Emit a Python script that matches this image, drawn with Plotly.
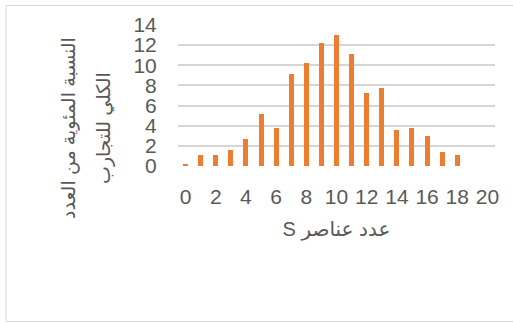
import plotly.graph_objects as go

# Number of elements in S and the percentage of all trials for each count
elements = list(range(19))
percent = [0.2, 1.1, 1.1, 1.6, 2.7, 5.2, 3.8, 9.1, 10.2, 12.2,
           13.0, 11.1, 7.2, 7.7, 3.6, 3.8, 3.0, 1.4, 1.1]

x_ticks = list(range(0, 21, 2))
y_ticks = list(range(0, 15, 2))

# Right-to-left embedding keeps the Latin "S" at the left end of the phrase
x_title = "\u202bعدد عناصر S\u202c"
y_title_lines = ["النسبة المئوية من العدد", "الكلي للتجارب"]

grey = "#595959"
font_family = "Liberation Sans, Arial, DejaVu Sans, sans-serif"

fig = go.Figure(
    go.Bar(
        x=elements,
        y=percent,
        width=0.33,
        marker=dict(color="#ED7D31", line=dict(width=0)),
    )
)

W, H = 513, 323
ml, mr, mt, mb = 178, 18, 25, 157

fig.update_layout(
    width=W,
    height=H,
    margin=dict(l=ml, r=mr, t=mt, b=mb),
    paper_bgcolor="white",
    plot_bgcolor="white",
    showlegend=False,
    font=dict(family=font_family, color=grey, size=21),
    bargap=0,
)

fig.update_xaxes(
    range=[-0.5, 20.5],
    tickvals=x_ticks,
    ticktext=[str(v) for v in x_ticks],
    showgrid=False,
    zeroline=False,
    showline=False,
    ticks="outside",
    ticklen=12,
    tickcolor="rgba(0,0,0,0)",
    tickfont=dict(size=21, color=grey),
    title=dict(text=x_title, font=dict(size=20, color=grey), standoff=14),
)

fig.update_yaxes(
    range=[0, 14],
    tickvals=y_ticks,
    showgrid=True,
    gridcolor="#d6d6d6",
    gridwidth=1.8,
    zeroline=False,
    showline=False,
    ticks="outside",
    ticklen=16,
    tickcolor="rgba(0,0,0,0)",
    tickfont=dict(size=21, color=grey),
)

pw = W - ml - mr
ph = H - mt - mb

# Two-line rotated axis title on the left
for line, px in zip(y_title_lines, [69, 104]):
    fig.add_annotation(
        text=line,
        xref="paper",
        yref="paper",
        x=(px - ml) / pw,
        y=(H - mb - 128) / ph,
        xanchor="center",
        yanchor="middle",
        textangle=-90,
        showarrow=False,
        font=dict(size=19, color=grey),
    )

# Light chart-area border
fig.add_shape(
    type="rect",
    xref="paper",
    yref="paper",
    x0=(6 - ml) / pw,
    x1=(520 - ml) / pw,
    y0=(H - mb - 321.5) / ph,
    y1=(H - mb - 5.5) / ph,
    line=dict(color="#d9d9d9", width=1),
    fillcolor="rgba(0,0,0,0)",
    layer="below",
)

fig.write_html("out.html")
